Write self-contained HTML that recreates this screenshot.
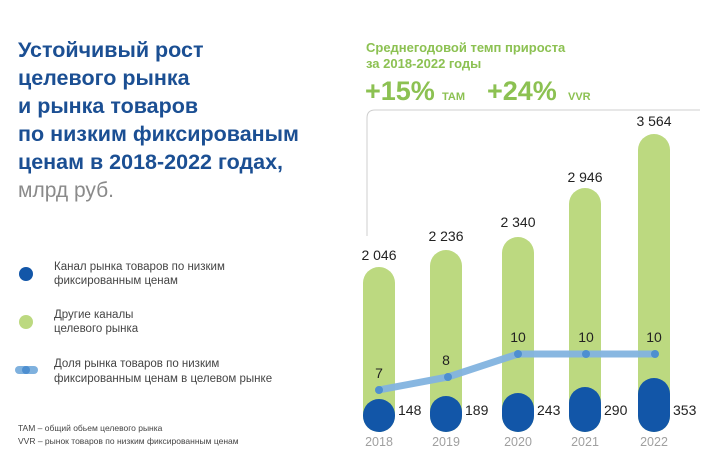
<!DOCTYPE html>
<html><head><meta charset="utf-8"><style>
body{margin:0;background:#fff}
svg{display:block;font-family:"Liberation Sans","DejaVu Sans",sans-serif}
</style></head><body>
<svg width="703" height="469" viewBox="0 0 703 469" xmlns="http://www.w3.org/2000/svg">
<g fill="#1b4f93" font-weight="bold" font-size="21.5">
<text x="18" y="57">Устойчивый рост</text>
<text x="18" y="85">целевого рынка</text>
<text x="18" y="113">и рынка товаров</text>
<text x="18" y="141">по низким фиксированым</text>
<text x="18" y="169">ценам в 2018-2022 годах,</text>
</g>
<text x="18" y="197" fill="#8a8a8a" font-size="21">млрд руб.</text>
<circle cx="26" cy="274" r="7" fill="#1256a8"/>
<circle cx="26" cy="322" r="7" fill="#bcd980"/>
<line x1="19" y1="370" x2="34" y2="370" stroke="#7fb1de" stroke-width="8" stroke-linecap="round"/>
<circle cx="26" cy="370" r="4" fill="#4e8fd0"/>
<g fill="#444" font-size="11.5">
<text x="54" y="270">Канал рынка товаров по низким</text>
<text x="54" y="284">фиксированным ценам</text>
<text x="54" y="318">Другие каналы</text>
<text x="54" y="332">целевого рынка</text>
<text x="54" y="367">Доля рынка товаров по низким</text>
<text x="54" y="382">фиксированным ценам в целевом рынке</text>
</g>
<g fill="#444" font-size="8.5">
<text x="18" y="431">TAM – общий обьем целевого рынка</text>
<text x="18" y="444">VVR – рынок товаров по низким фиксированным ценам</text>
</g>
<g fill="#8cc152" font-weight="bold">
<text x="366" y="52" font-size="13">Среднегодовой темп прироста</text>
<text x="366" y="68" font-size="13">за 2018-2022 годы</text>
<text x="365" y="100" font-size="27">+15%</text>
<text x="442" y="100" font-size="11">TAM</text>
<text x="487" y="100" font-size="27">+24%</text>
<text x="568" y="100" font-size="11">VVR</text>
</g>
<path d="M367 236 V118 Q367 110 375 110 H700" fill="none" stroke="#cfcfcf" stroke-width="1"/>
<g fill="#bcd980">
<rect x="363" y="267" width="32" height="165" rx="16"/>
<rect x="430" y="250" width="32" height="182" rx="16"/>
<rect x="502" y="237" width="32" height="195" rx="16"/>
<rect x="569" y="188" width="32" height="244" rx="16"/>
<rect x="638" y="134" width="32" height="298" rx="16"/>
</g>
<g fill="#1256a8">
<rect x="363" y="399" width="32" height="33" rx="16"/>
<rect x="430" y="396" width="32" height="36" rx="16"/>
<rect x="502" y="393" width="32" height="39" rx="16"/>
<rect x="569" y="387" width="32" height="45" rx="16"/>
<rect x="638" y="378" width="32" height="54" rx="16"/>
</g>
<polyline points="379,390 448,377 518,354 586,354 655,354" fill="none" stroke="#82b3df" stroke-width="7" stroke-linejoin="round" opacity="0.95"/>
<g fill="#4e8fd0">
<circle cx="379" cy="390" r="4"/><circle cx="448" cy="377" r="4"/><circle cx="518" cy="354" r="4"/><circle cx="586" cy="354" r="4"/><circle cx="655" cy="354" r="4"/>
</g>
<g fill="#222" font-size="14" text-anchor="middle">
<text x="379" y="260">2 046</text>
<text x="446" y="241">2 236</text>
<text x="518" y="227">2 340</text>
<text x="585" y="182">2 946</text>
<text x="654" y="126">3 564</text>
<text x="379" y="378">7</text>
<text x="446" y="365">8</text>
<text x="518" y="342">10</text>
<text x="586" y="342">10</text>
<text x="654" y="342">10</text>
</g>
<g fill="#222" font-size="14">
<text x="398" y="415">148</text>
<text x="465" y="415">189</text>
<text x="537" y="415">243</text>
<text x="604" y="415">290</text>
<text x="673" y="415">353</text>
</g>
<g fill="#a0a0a0" font-size="12.5" text-anchor="middle">
<text x="379" y="446">2018</text>
<text x="446" y="446">2019</text>
<text x="518" y="446">2020</text>
<text x="585" y="446">2021</text>
<text x="654" y="446">2022</text>
</g>
</svg>
</body></html>
